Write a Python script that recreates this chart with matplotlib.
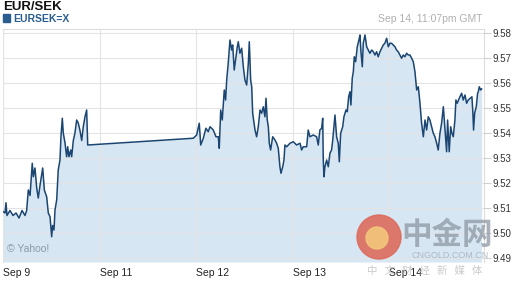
import matplotlib
matplotlib.use("Agg")
import matplotlib.pyplot as plt
from matplotlib.patches import Circle, Rectangle

# time in trading-day units (0 = Sep 9 gridline), price EUR/SEK
t = [0.003, 0.021, 0.031, 0.041, 0.072, 0.104, 0.135, 0.166, 0.197, 0.228, 0.245,
     0.262, 0.280, 0.303, 0.314, 0.331, 0.349, 0.365, 0.383, 0.411, 0.428, 0.452,
     0.469, 0.487, 0.504, 0.514, 0.528, 0.538, 0.556, 0.572, 0.590, 0.600, 0.614,
     0.624, 0.642, 0.659, 0.670, 0.683, 0.701, 0.711, 0.728, 0.745, 0.763, 0.779,
     0.797, 0.815, 0.831, 0.849, 0.866, 0.872, 0.877,
     1.970, 2.005, 2.032, 2.047, 2.074, 2.101, 2.125, 2.143, 2.160, 2.177, 2.205,
     2.229, 2.239, 2.254, 2.270, 2.291, 2.305, 2.316, 2.332, 2.350, 2.367, 2.378,
     2.394, 2.412, 2.426, 2.436, 2.453, 2.471, 2.488, 2.505, 2.523, 2.540, 2.550,
     2.564, 2.575, 2.585, 2.609, 2.626, 2.643, 2.661, 2.678, 2.695, 2.712, 2.723,
     2.736, 2.747, 2.757, 2.771, 2.792, 2.816, 2.833, 2.850, 2.867, 2.878, 2.896,
     2.909, 2.919, 2.937, 2.971, 3.005, 3.040, 3.075, 3.092, 3.109, 3.144, 3.160,
     3.178, 3.212, 3.247, 3.264, 3.281, 3.299, 3.310, 3.316, 3.323, 3.333, 3.351,
     3.368, 3.385, 3.402, 3.414, 3.437, 3.454, 3.471, 3.482, 3.496, 3.517, 3.530,
     3.551, 3.564, 3.579, 3.592, 3.602, 3.616, 3.627, 3.637, 3.651, 3.668, 3.685,
     3.696, 3.706, 3.720, 3.730, 3.748, 3.765, 3.782, 3.799, 3.817, 3.834, 3.851,
     3.868, 3.885, 3.903, 3.920, 3.937, 3.954, 3.972, 3.989, 4.006, 4.023, 4.040,
     4.058, 4.075, 4.092, 4.110, 4.127, 4.144, 4.161, 4.179, 4.196, 4.213, 4.231,
     4.248, 4.265, 4.283, 4.300, 4.317, 4.334, 4.352, 4.369, 4.386, 4.403, 4.420,
     4.438, 4.455, 4.472, 4.490, 4.506, 4.524, 4.541, 4.559, 4.576, 4.593, 4.603,
     4.620, 4.635, 4.648, 4.662, 4.679, 4.689, 4.703, 4.724, 4.748, 4.765, 4.783,
     4.800, 4.817, 4.838, 4.855, 4.865, 4.872, 4.883, 4.900, 4.914, 4.921, 4.931,
     4.945, 4.955]
price = [9.5085, 9.5080, 9.5121, 9.5070, 9.5090, 9.5070, 9.5080, 9.5060, 9.5090, 9.5070, 9.5090,
         9.5172, 9.5150, 9.5279, 9.5225, 9.5260, 9.5180, 9.5140, 9.5190, 9.5260, 9.5172, 9.5145,
         9.5080, 9.5065, 9.4985, 9.5030, 9.5012, 9.5090, 9.5133, 9.5252, 9.5292, 9.5385, 9.5459,
         9.5400, 9.5360, 9.5305, 9.5345, 9.5305, 9.5332, 9.5305, 9.5370, 9.5400, 9.5452, 9.5440,
         9.5410, 9.5370, 9.5425, 9.5465, 9.5492, 9.5410, 9.5352,
         9.5379, 9.5392, 9.5439, 9.5352, 9.5379, 9.5419, 9.5405, 9.5425, 9.5419, 9.5412, 9.5385,
         9.5385, 9.5339, 9.5492, 9.5452, 9.5572, 9.5532, 9.5612, 9.5679, 9.5772, 9.5732, 9.5752,
         9.5652, 9.5705, 9.5745, 9.5765, 9.5719, 9.5739, 9.5665, 9.5612, 9.5592, 9.5679, 9.5765,
         9.5612, 9.5585, 9.5479, 9.5412, 9.5385, 9.5425, 9.5492, 9.5479, 9.5505, 9.5465, 9.5539,
         9.5452, 9.5425, 9.5359, 9.5332, 9.5385, 9.5372, 9.5359, 9.5339, 9.5265, 9.5239, 9.5265,
         9.5292, 9.5352, 9.5345, 9.5359, 9.5365, 9.5352, 9.5359, 9.5332, 9.5345, 9.5345, 9.5412,
         9.5385, 9.5392, 9.5385, 9.5352, 9.5412, 9.5419, 9.5459, 9.5292, 9.5225, 9.5265, 9.5292,
         9.5265, 9.5319, 9.5332, 9.5372, 9.5472, 9.5385, 9.5359, 9.5285, 9.5399, 9.5425, 9.5465,
         9.5492, 9.5485, 9.5545, 9.5565, 9.5512, 9.5619, 9.5645, 9.5705, 9.5685, 9.5745, 9.5772,
         9.5792, 9.5725, 9.5665, 9.5759, 9.5792, 9.5745, 9.5732, 9.5719, 9.5732, 9.5725, 9.5712,
         9.5725, 9.5705, 9.5725, 9.5739, 9.5752, 9.5759, 9.5779, 9.5745, 9.5759, 9.5759, 9.5752,
         9.5745, 9.5732, 9.5725, 9.5712, 9.5699, 9.5712, 9.5705, 9.5719, 9.5712, 9.5712, 9.5699,
         9.5685, 9.5645, 9.5572, 9.5585, 9.5519, 9.5439, 9.5385, 9.5452, 9.5412, 9.5465, 9.5452,
         9.5425, 9.5399, 9.5385, 9.5359, 9.5332, 9.5399, 9.5439, 9.5505, 9.5412, 9.5325, 9.5452,
         9.5325, 9.5425, 9.5399, 9.5385, 9.5452, 9.5532, 9.5519, 9.5539, 9.5559, 9.5532, 9.5552,
         9.5519, 9.5532, 9.5539, 9.5545, 9.5479, 9.5412, 9.5479, 9.5505, 9.5559, 9.5565, 9.5585,
         9.5572, 9.5576]

tick_pos = [0, 1, 2, 3, 4]
tick_labels = ["Sep 9", "Sep 11", "Sep 12", "Sep 13", "Sep 14"]
y_ticks = [9.49, 9.50, 9.51, 9.52, 9.53, 9.54, 9.55, 9.56, 9.57, 9.58]

plt.rcParams["font.family"] = ["Liberation Sans", "DejaVu Sans"]

fig = plt.figure(figsize=(5.12, 2.88), dpi=100)
ax = fig.add_axes([3 / 512, 1 - 262 / 288, 481 / 512, 233 / 288])

ymin, ymax = 9.4884, 9.5816
ax.set_xlim(0, 4.98)
ax.set_ylim(ymin, ymax)

ax.fill_between(t, price, ymin, color="#d6e6f2", lw=0, zorder=1)
ax.plot(t, price, color="#1b4672", lw=1.1, zorder=3)

ax.set_yticks(y_ticks)
ax.set_yticklabels(["%.2f" % v for v in y_ticks])
ax.yaxis.tick_right()
ax.set_xticks(tick_pos)
ax.set_xticklabels(tick_labels, ha="left")
ax.tick_params(axis="y", length=5, color="#d0d0d0", labelsize=7, labelcolor="#333333", pad=1)
ax.tick_params(axis="x", length=0, labelsize=7.5, labelcolor="#222222", pad=4)
ax.grid(True, color="#e4e4e4", lw=0.8, zorder=2)
ax.set_axisbelow(False)
for side in ["left", "top", "right"]:
    ax.spines[side].set_color("#dcdcdc")
    ax.spines[side].set_linewidth(0.8)
ax.spines["bottom"].set_visible(False)

# header
fig.text(3 / 512, 1 - 7 / 288, "EUR/SEK", fontsize=9.5, fontweight="bold", color="#111111", va="center")
fig.patches.append(Rectangle((3 / 512, 1 - 22 / 288), 7 / 512, 8 / 288, transform=fig.transFigure,
                             color="#2a5d8f"))
fig.text(13 / 512, 1 - 18.5 / 288, "EURSEK=X", fontsize=7.5, fontweight="bold", color="#2a5d8f", va="center")
fig.text(483 / 512, 1 - 19 / 288, "Sep 14, 11:07pm GMT", fontsize=7.5, color="#b0b0b0", ha="right", va="center")

ax.text(0.008, 0.055, "\u00a9 Yahoo!", transform=ax.transAxes, fontsize=7.5, color="#8c9aa6", va="center")

# watermark (circle positioned in inches so it stays round)
fig.patches.append(Circle((3.79, 0.51), 0.22, transform=fig.dpi_scale_trans,
                          color="#dd6b5c", alpha=0.9, zorder=5))
fig.patches.append(Circle((3.77, 0.50), 0.11, transform=fig.dpi_scale_trans,
                          color="#f4c77c", alpha=0.9, zorder=6))
fig.text(447 / 512, 1 - 235 / 288, "中金网", fontsize=22, fontweight="bold", color="#8d97a3", alpha=0.75,
         ha="center", va="center", family=["Noto Sans CJK SC", "DejaVu Sans"])
fig.text(450 / 512, 1 - 255 / 288, "CNGOLD.COM.CN", fontsize=6.5, color="#a9b1bb", alpha=0.85,
         ha="center", va="center")
fig.text(425 / 512, 1 - 271 / 288, "中   文   财   经   新   媒   体", fontsize=7.5, color="#bdbdbd", alpha=0.8,
         ha="center", va="center", family=["Noto Sans CJK SC", "DejaVu Sans"])

fig.savefig("out.png", dpi=100)
